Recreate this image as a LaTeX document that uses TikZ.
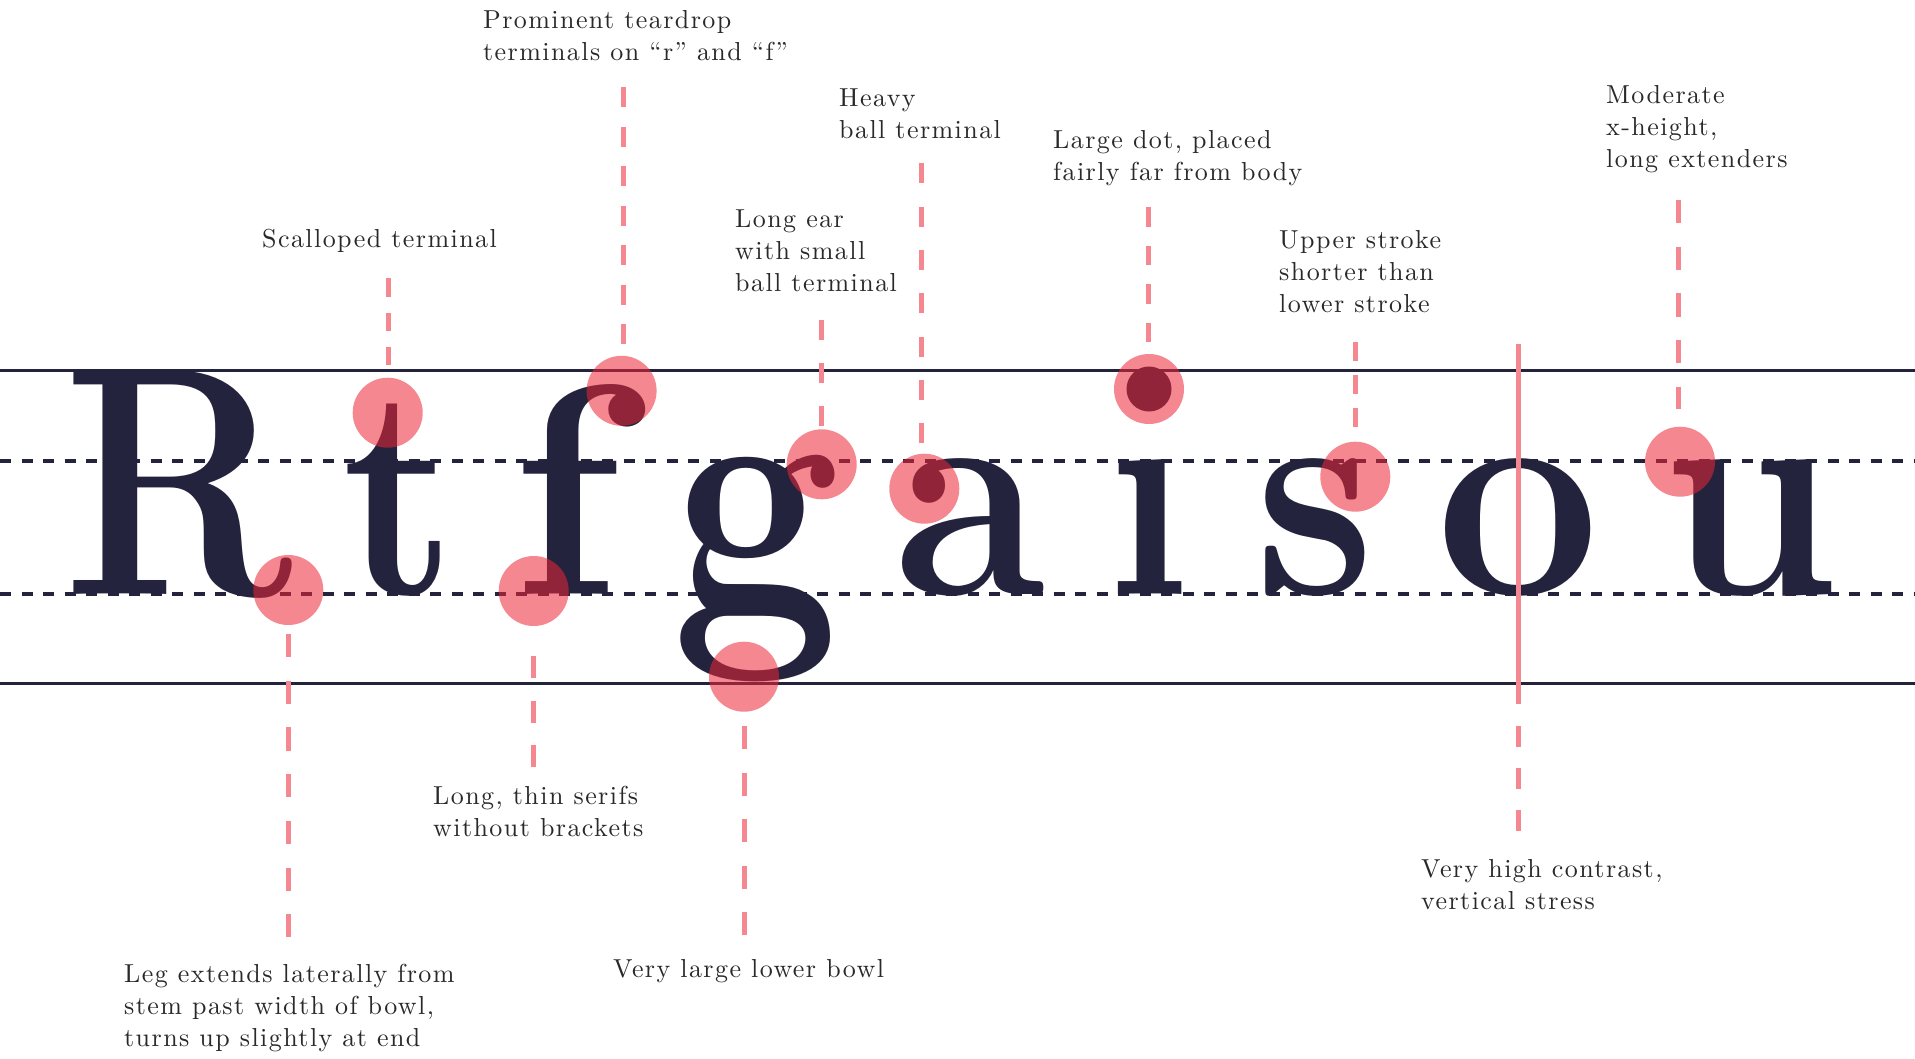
\documentclass[tikz,border=0pt]{standalone}
\usepackage{fontspec}
\usepackage{graphicx}
\newfontfamily\labfont{lmroman10-regular}[Extension=.otf, LetterSpace=5.5]
\definecolor{navy}{HTML}{23233D}
\definecolor{dotred}{HTML}{ED2537}
\definecolor{leadpink}{HTML}{F58791}
\definecolor{labink}{HTML}{2A2829}
\newcommand{\mylbl}[1]{\begin{tabular}[t]{@{}l@{}}#1\end{tabular}}
\tikzset{
 guide/.style={draw=navy, line width=3pt},
 guidedash/.style={draw=navy, line width=3.2pt, dash pattern=on 11pt off 10.5pt},
 glyph/.style={anchor=base, inner sep=0pt, outer sep=0pt, text=navy, font=\bfseries},
 spot/.style={circle, fill=dotred, fill opacity=0.55, draw=none, minimum size=70pt, inner sep=0pt},
 lead/.style={draw=leadpink, line width=5pt},
 lab/.style={anchor=base west, inner sep=0pt, text=labink, font=\labfont\fontsize{26}{32}\selectfont},
}
\begin{document}
\begin{tikzpicture}[x=1pt,y=-1pt]
\useasboundingbox (0,0) rectangle (1915,1058);
\fill[white] (0,0) rectangle (1915,1058);
% guide lines
\coordinate (capL) at (0,370); \coordinate (capR) at (1915,370);
\coordinate (xhL) at (0,461); \coordinate (xhR) at (1915,461);
\coordinate (blL) at (0,594); \coordinate (blR) at (1915,594);
\coordinate (dsL) at (0,683); \coordinate (dsR) at (1915,683);
\draw[guide] (capL) -- (capR);
\draw[guide] (dsL) -- (dsR);
\draw[guidedash] (xhL) -- (xhR);
\draw[guidedash] (blL) -- (blR);
% glyphs
\node[glyph] (gR) at (178,594) {\fontsize{326}{326}\selectfont\scalebox{0.84}[1]{R}};
\node[glyph] (gt) at (400,594) {\fontsize{300}{300}\selectfont\scalebox{0.87}[1]{t}};
\node[glyph] (gf) at (566,594) {\fontsize{300}{300}\selectfont\scalebox{1.06}[1]{f}};
\node[glyph] (gg) at (756,612) {\fontsize{300}{300}\selectfont\scalebox{1.0}[1.15]{g}};
\node[glyph] (ga) at (970,594) {\fontsize{300}{300}\selectfont\scalebox{0.92}[1]{a}};
\node[glyph] (gi) at (1148.5,594) {\fontsize{300}{300}\selectfont\scalebox{0.9}[1]{ı}};
\node[circle, fill=navy, minimum size=45pt, inner sep=0pt] (idot) at (1149,389) {};
\node[glyph] (gs) at (1315,594) {\fontsize{300}{300}\selectfont\scalebox{0.9}[1]{s}};
\node[glyph] (go) at (1518.5,594) {\fontsize{300}{300}\selectfont\scalebox{0.97}[1]{o}};
\node[glyph] (gu) at (1751,594) {\fontsize{300}{300}\selectfont\scalebox{0.94}[1]{u}};
% highlight spots
\node[spot] (cR) at (288.3,590) {};
\node[spot] (ct) at (387.7,412.7) {};
\node[spot] (cfb) at (621.6,390.8) {};
\node[spot] (cfs) at (533.7,591) {};
\node[spot] (cge) at (821.7,464.3) {};
\node[spot] (cgb) at (744,676.7) {};
\node[spot] (ca) at (924.3,488.7) {};
\node[spot] (ci) at (1149,389) {};
\node[spot] (cs) at (1355.3,476.7) {};
\node[spot] (cu) at (1680,461.7) {};
% leader end points
\coordinate (tT) at (388.3,278.3); \coordinate (tB) at (388.3,365);
\coordinate (fbT) at (623.5,87); \coordinate (fbB) at (623.5,344);
\coordinate (geT) at (821,320);  \coordinate (geB) at (821,426);
\coordinate (aT) at (921,163.3); \coordinate (aB) at (921,443.3);
\coordinate (iT) at (1148.5,207.3); \coordinate (iB) at (1148.5,342);
\coordinate (sT) at (1355.3,342); \coordinate (sB) at (1355.3,427);
\coordinate (uT) at (1678,200);  \coordinate (uB) at (1678,409);
\coordinate (RT) at (288.3,634); \coordinate (RB) at (288.3,937);
\coordinate (fsT) at (533.5,645); \coordinate (fsB) at (533.5,767);
\coordinate (gbT) at (744,726);  \coordinate (gbB) at (744,936);
\coordinate (oT) at (1518.3,344); \coordinate (oM) at (1518.3,704.3);
\coordinate (oD) at (1518.3,725); \coordinate (oB) at (1518.3,830.5);
% leaders
\draw[lead, dash pattern=on 18.3pt off 16pt] (tT) -- (tB);
\draw[lead, dash pattern=on 20pt off 19.5pt] (fbT) -- (fbB);
\draw[lead, dash pattern=on 20pt off 23pt] (geT) -- (geB);
\draw[lead, dash pattern=on 20pt off 23.3pt] (aT) -- (aB);
\draw[lead, dash pattern=on 19.3pt off 19.2pt] (iT) -- (iB);
\draw[lead, dash pattern=on 19pt off 14pt] (sT) -- (sB);
\draw[lead, dash pattern=on 23.3pt off 23.4pt] (uT) -- (uB);
\draw[lead, dash pattern=on 23.3pt off 23.4pt] (RT) -- (RB);
\draw[lead, dash pattern=on 22pt off 22.3pt] (fsB) -- (fsT);
\draw[lead, dash pattern=on 23pt off 23.6pt] (gbT) -- (gbB);
\draw[lead] (oT) -- (oM);
\draw[lead, dash pattern=on 21pt off 21pt] (oB) -- (oD);
% labels
\node[lab] (l1) at (483,28.5) {\mylbl{Prominent teardrop\\terminals on “r” and “f”}};
\node[lab] (l2) at (839,106.7) {\mylbl{Heavy\\ball terminal}};
\node[lab] (l3) at (1053,148.3) {\mylbl{Large dot, placed\\fairly far from body}};
\node[lab] (l4) at (1606,103.3) {\mylbl{Moderate\\x-height,\\long extenders}};
\node[lab] (l5) at (262,247) {\mylbl{Scalloped terminal}};
\node[lab] (l6) at (735,227.3) {\mylbl{Long ear\\with small\\ball terminal}};
\node[lab] (l7) at (1279,248.3) {\mylbl{Upper stroke\\shorter than\\lower stroke}};
\node[lab] (l8) at (433,804) {\mylbl{Long, thin serifs\\without brackets}};
\node[lab] (l9) at (1421,877.3) {\mylbl{Very high contrast,\\vertical stress}};
\node[lab] (l10) at (124,982) {\mylbl{Leg extends laterally from\\stem past width of bowl,\\turns up slightly at end}};
\node[lab] (l11) at (613,977.3) {\mylbl{Very large lower bowl}};
\end{tikzpicture}
\end{document}
